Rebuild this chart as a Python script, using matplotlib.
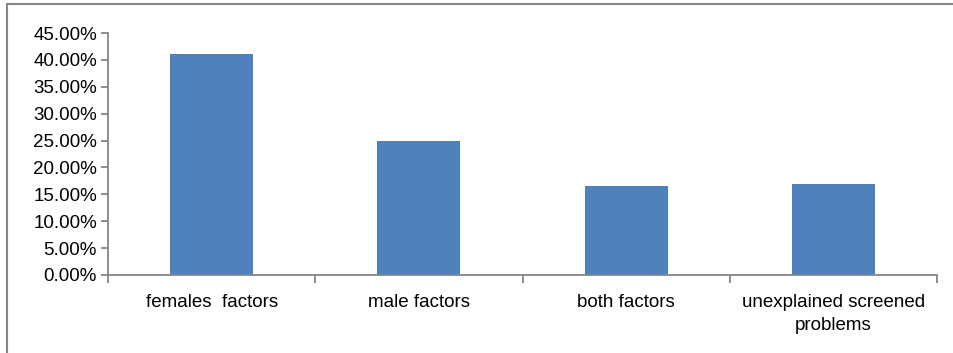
import matplotlib.pyplot as plt
from matplotlib.lines import Line2D
from matplotlib.ticker import FuncFormatter, MultipleLocator

categories = ['females  factors', 'male factors', 'both factors',
              'unexplained screened\nproblems']
shares = [0.411, 0.25, 0.165, 0.17]

plt.rcParams['font.family'] = ['Liberation Sans', 'DejaVu Sans']

fig = plt.figure(figsize=(9.54, 3.53), dpi=100)
ax = fig.add_axes([0.1132, 0.221, 0.869, 0.6855])

x = list(range(len(categories)))
ax.bar(x, shares, width=0.4, color='#4F81BD')

ax.set_xlim(-0.5, len(categories) - 0.5)
ax.set_ylim(0, 0.45)
ax.yaxis.set_major_locator(MultipleLocator(0.05))
ax.yaxis.set_major_formatter(FuncFormatter(lambda v, _: f'{v * 100:.2f}%'))

# labels sit between the category boundary ticks
ax.set_xticks(x)
ax.set_xticklabels(categories, fontsize=13.5, linespacing=1.45)
ax.tick_params(axis='x', which='major', length=0, pad=14)
ax.set_xticks([i - 0.5 for i in range(len(categories) + 1)], minor=True)
ax.tick_params(axis='x', which='minor', length=6, width=1.3, color='#868686')
ax.tick_params(axis='y', length=5, width=1.3, color='#868686', labelsize=13.5, pad=3)

for side in ('top', 'right'):
    ax.spines[side].set_visible(False)
for side in ('left', 'bottom'):
    ax.spines[side].set_color('#868686')
    ax.spines[side].set_linewidth(1.3)

# chart area frame
fig.add_artist(Line2D([7 / 954, 1], [1 - 4 / 353, 1 - 4 / 353], color='#868686', lw=1.5))
fig.add_artist(Line2D([7 / 954, 7 / 954], [0, 1 - 4 / 353], color='#868686', lw=1.5))

fig.savefig('out.png', dpi=100)
